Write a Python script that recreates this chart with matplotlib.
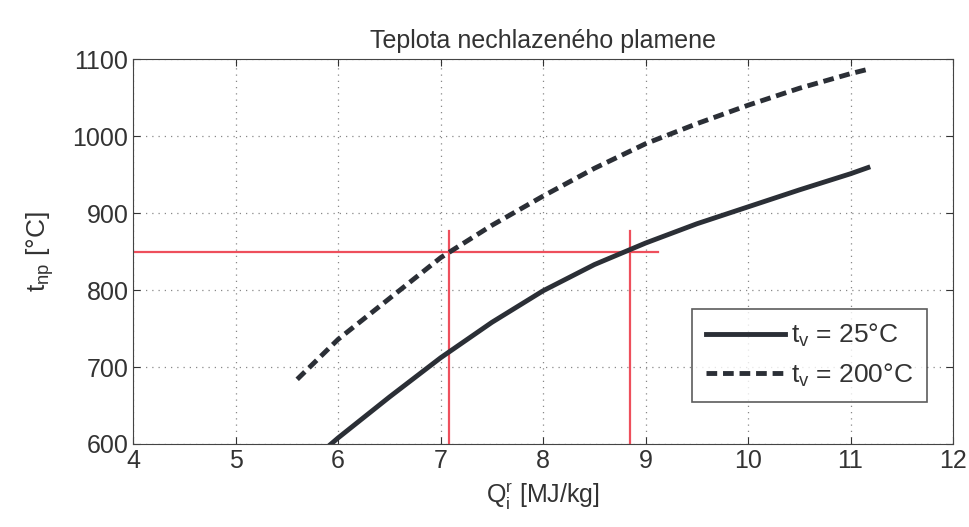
import matplotlib.pyplot as plt
import numpy as np

plt.rcParams['font.family'] = ['Liberation Sans', 'DejaVu Sans']

# solid curve, t_v = 25 °C
q_25 = [5.93, 6.0, 6.5, 7.0, 7.5, 8.0, 8.5, 9.0, 9.5, 10.0, 10.5, 11.0, 11.17]
t_25 = [600, 608, 661, 712, 758, 799, 833, 861, 886, 908, 930, 951, 959]

# dashed curve, t_v = 200 °C
q_200 = [5.6, 6.0, 6.5, 7.0, 7.5, 8.0, 8.5, 9.0, 9.5, 10.0, 10.5, 11.0, 11.15]
t_200 = [684, 736, 789, 842, 884, 922, 958, 990, 1016, 1040, 1062, 1081, 1086]

# red helper lines
t_read = 850
q_read = [7.08, 8.85]
q_hline_end = 9.12
t_vline_top = 876

fig = plt.figure(figsize=(9.69, 5.27), dpi=100)
ax = fig.add_axes([0.1375, 0.1575, 0.846, 0.7305])

red = '#ee4f5c'
ax.plot([4, q_hline_end], [t_read, t_read], color=red, lw=1.6, zorder=2)
for q in q_read:
    ax.plot([q, q], [600, t_vline_top], color=red, lw=1.6, zorder=2)

ax.plot(q_25, t_25, color='#2b2f36', lw=3.5, label='t$_\\mathregular{v}$ = 25°C', zorder=3)
ax.plot(q_200, t_200, color='#2b2f36', lw=3.5, ls=(0, (2.2, 1.2)),
        label='t$_\\mathregular{v}$ = 200°C', zorder=3)

ax.set_xlim(4, 12)
ax.set_ylim(600, 1100)
ax.set_xticks(np.arange(4, 13, 1))
ax.set_yticks(np.arange(600, 1101, 100))
ax.grid(True, ls=(0, (1, 4)), color='#888888', lw=0.9)
ax.tick_params(direction='in', top=True, right=True, labelsize=18, colors='#333333', length=5)
for s in ax.spines.values():
    s.set_color('#444444')

ax.set_title('Teplota nechlazeného plamene', fontsize=18, color='#333333', pad=8)
ax.set_xlabel('Q$_\\mathregular{i}^\\mathregular{r}$ [MJ/kg]', fontsize=18, color='#333333', labelpad=6)
ax.set_ylabel('t$_\\mathregular{np}$ [°C]', fontsize=19, color='#333333', labelpad=12)

leg = ax.legend(loc='lower right', fontsize=19, fancybox=False, edgecolor='#333333',
                handlelength=3.0, handletextpad=0.25, borderpad=0.5, labelspacing=0.45,
                bbox_to_anchor=(0.984, 0.075))
leg.get_frame().set_linewidth(1.2)
for t in leg.get_texts():
    t.set_color('#333333')

fig.savefig('out.png', dpi=100)
